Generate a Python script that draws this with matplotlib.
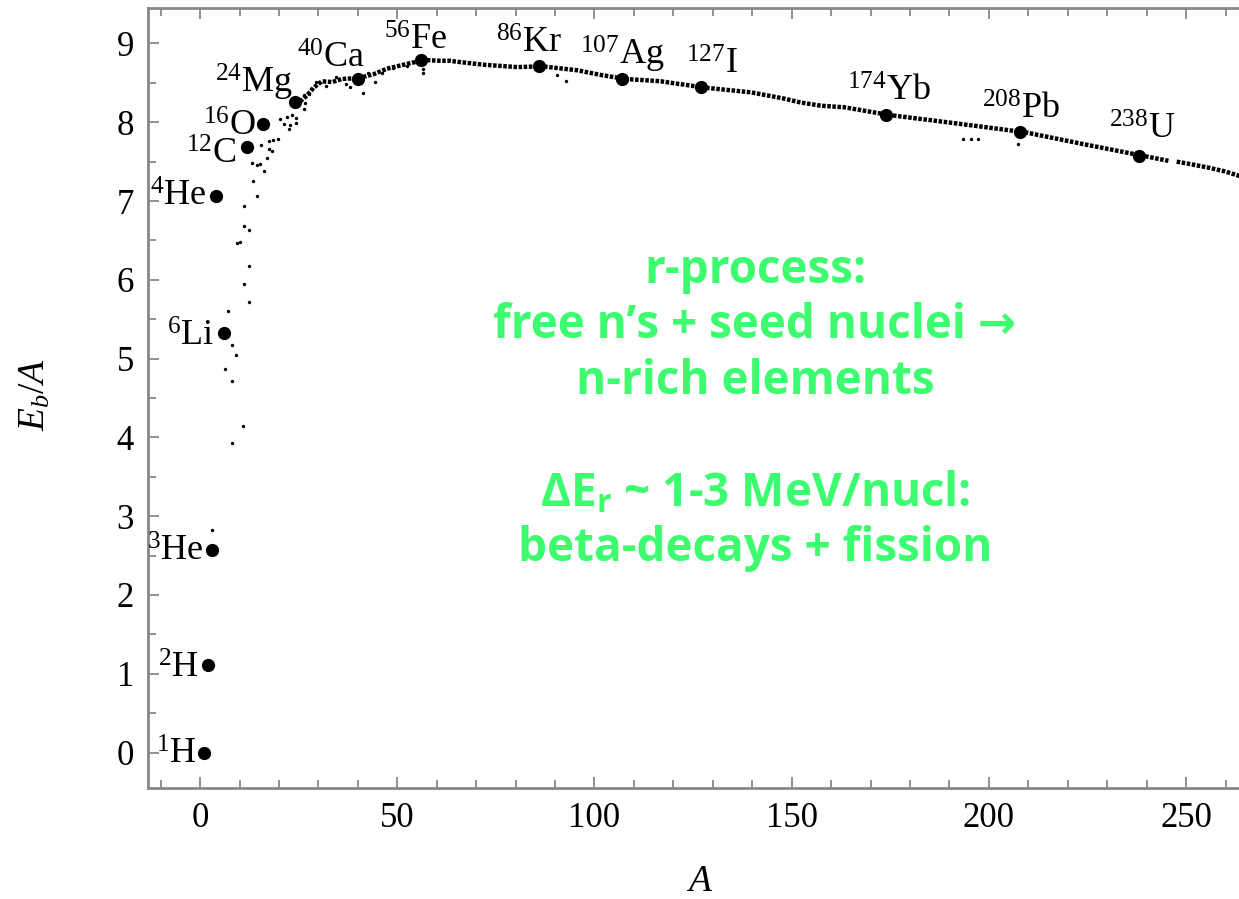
import matplotlib
matplotlib.use("Agg")
import matplotlib.pyplot as plt
from matplotlib.ticker import MultipleLocator

plt.rcParams['font.family'] = ['Liberation Serif', 'DejaVu Serif']
plt.rcParams['mathtext.fontset'] = 'custom'
plt.rcParams['mathtext.rm'] = 'Liberation Serif'
plt.rcParams['mathtext.it'] = 'Liberation Serif:italic'
plt.rcParams['mathtext.bf'] = 'Open Sans:bold'

# labelled nuclei: mass number, binding energy per nucleon (MeV)
nuc_mass = [1, 2, 3, 4, 6, 12, 16, 24, 40, 56, 86, 107, 127, 174, 208, 238]
nuc_be = [0.0, 1.11, 2.57, 7.07, 5.33, 7.68, 7.98, 8.26, 8.55, 8.79, 8.71,
          8.55, 8.45, 8.09, 7.87, 7.57]
nuc_sym = ['H', 'H', 'He', 'He', 'Li', 'C', 'O', 'Mg', 'Ca', 'Fe', 'Kr',
           'Ag', 'I', 'Yb', 'Pb', 'U']

# dense band of all the other nuclei
band_A = [24.4, 27.1, 28.8, 30.9, 33.5, 36.0, 40.2, 44.0, 47.4, 50.8, 54.2,
          56.6, 61.0, 63.5, 64.8, 71.9, 80.4, 86.7, 95.6, 101.6, 107.7,
          116.8, 127.8, 139.6, 148.1, 152.3, 157.4, 163.3, 175.0, 186.2,
          198.8, 209.4, 224.2, 239.5, 245.5]
band_B = [8.22, 8.34, 8.44, 8.52, 8.51, 8.55, 8.56, 8.61, 8.68, 8.72, 8.76,
          8.79, 8.78, 8.78, 8.77, 8.73, 8.70, 8.71, 8.66, 8.60, 8.55,
          8.52, 8.44, 8.38, 8.30, 8.25, 8.21, 8.19, 8.09, 8.02,
          7.94, 7.87, 7.72, 7.57, 7.51]
tail_A = [247.6, 252.0, 256.0, 259.5, 262.8, 264.0]
tail_B = [7.50, 7.46, 7.42, 7.38, 7.33, 7.31]

# scattered light nuclei and stragglers
dot_A = [3.0, 8.2, 11.0, 6.2, 8.2, 9.2, 8.2, 7.2, 12.3, 11.2, 12.3, 9.3, 10.0,
         11.2, 12.3, 11.2, 14.4, 13.3, 16.1, 13.2, 14.4, 15.3, 17.0, 18.2,
         17.6, 15.4, 17.6, 18.6, 19.7, 20.3, 22.0, 23.3, 24.4, 21.2, 22.9,
         24.2, 22.5, 26.3, 27.5, 28.4, 29.5, 26.7, 26.3, 41.3, 38.1, 44.4,
         56.6, 56.6, 90.6, 92.7, 193.4, 195.5, 197.2, 207.3,
         32.0, 34.5, 37.0, 42.5, 46.0, 49.0, 52.5]
dot_B = [2.83, 3.93, 4.14, 4.87, 4.72, 5.04, 5.17, 5.61, 5.72, 5.95, 6.17,
         6.47, 6.48, 6.68, 6.63, 6.94, 7.07, 7.25, 7.38, 7.48, 7.46, 7.47,
         7.55, 7.64, 7.66, 7.71, 7.76, 7.78, 7.79, 8.04, 8.07, 8.09, 8.05,
         7.98, 7.96, 7.99, 7.91, 8.34, 8.36, 8.42, 8.51, 8.25, 8.17, 8.37,
         8.45, 8.51, 8.67, 8.62, 8.60, 8.52, 7.79, 7.79, 7.79, 7.72,
         8.46, 8.57, 8.49, 8.63, 8.62, 8.69, 8.71]

notes = ['r-process:', 'free n\u2019s + seed nuclei \u2192', 'n-rich elements', '',
         '\u0394E$_{\\mathbf{r}}$ ~ 1-3 MeV/nucl:', 'beta-decays + fission']

# label placement (offset in pixels from the dot, horizontal alignment)
lab_off = [(-7, -11, 'right'), (-9, -13, 'right'), (-8, -11, 'right'),
           (-9, -10, 'right'), (-9, -13, 'right'), (-11, -16, 'right'),
           (-7, -12, 'right'), (-2, 9, 'right'), (7, 11, 'right'),
           (-5, 10, 'center'), (-10, 14, 'center'), (0, 14, 'center'),
           (11, 13, 'center'), (3, 14, 'center'), (0, 14, 'center'),
           (3, 17, 'center')]

fig = plt.figure(figsize=(12.39, 8.99), dpi=100)
ax = fig.add_axes([148 / 1239, 1 - 788 / 899, 1 - 148 / 1239, 780 / 899])

for xs, ys in [(band_A, band_B), (tail_A, tail_B)]:
    ax.plot(xs, ys, color='black', lw=3.2, linestyle=(0, (0.8, 0.35)), zorder=2)
ax.scatter(dot_A, dot_B, s=6, color='black', zorder=3, linewidths=0)
ax.plot(nuc_mass, nuc_be, 'o', color='black', ms=8.5, zorder=4)

px = 72 / 100
for a, b, s, (dx, dy, ha) in zip(nuc_mass, nuc_be, nuc_sym, lab_off):
    ax.annotate('$^{%d}$%s' % (a, s), (a, b), xytext=(dx * px, dy * px),
                textcoords='offset points', ha=ha, va='baseline', fontsize=26)

ax.set_xlim(-13.2, 263.4)
ax.set_ylim(-0.45, 9.45)
ax.xaxis.set_major_locator(MultipleLocator(50))
ax.xaxis.set_minor_locator(MultipleLocator(10))
ax.yaxis.set_major_locator(MultipleLocator(1))
ax.yaxis.set_minor_locator(MultipleLocator(0.5))
ax.tick_params(which='both', direction='in', top=True, right=False, color='#888888',
               width=1.3, labelsize=25, pad=10)
ax.tick_params(which='major', length=8)
ax.tick_params(which='minor', length=6)
for side in ['left', 'bottom', 'top']:
    ax.spines[side].set_color('#888888')
    ax.spines[side].set_linewidth(2)
ax.spines['right'].set_visible(False)

fig.text(700 / 1239, 1 - 882 / 899, '$A$', fontsize=27, ha='center', va='center')
fig.text(35 / 1239, 1 - 395 / 899, '$E_b/A$', fontsize=27, ha='center', va='center',
         rotation=90)

line_y = [270, 326, 382, 438, 494, 549]
for txt, yy in zip(notes, line_y):
    if txt:
        fig.text(755 / 1239, 1 - yy / 899, txt, fontsize=33, fontweight='bold',
                 family=['Open Sans', 'DejaVu Sans'], color='#3dfc70',
                 ha='center', va='center')

fig.savefig('out.png', dpi=100)
